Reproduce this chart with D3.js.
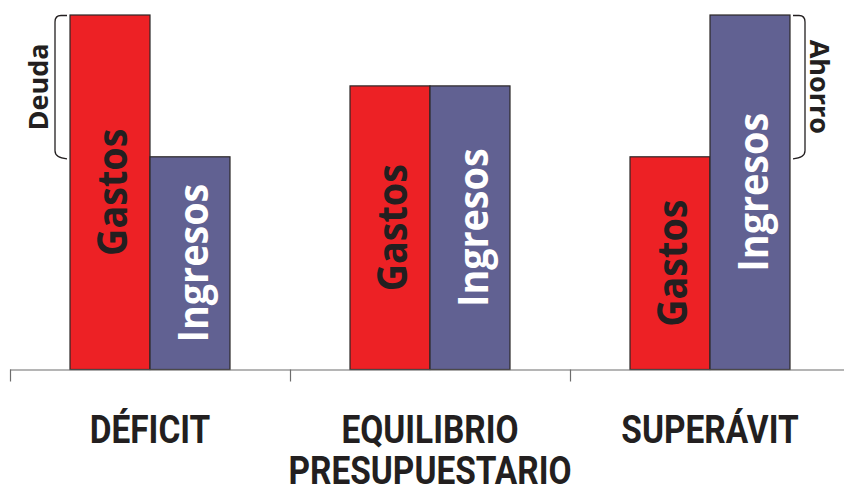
<!DOCTYPE html>
<html>
<head>
<meta charset="utf-8">
<script src="https://cdn.jsdelivr.net/npm/d3@7"></script>
<style>
  html, body { margin: 0; padding: 0; background: #fff; }
  svg { display: block; }
</style>
</head>
<body>
<svg id="chart" width="844" height="485"></svg>
<script>
// ---- data ----
const categories = ["DÉFICIT", "EQUILIBRIO PRESUPUESTARIO", "SUPERÁVIT"];
const categoryLines = [["DÉFICIT"], ["EQUILIBRIO", "PRESUPUESTARIO"], ["SUPERÁVIT"]];
const series = ["Gastos", "Ingresos"];
const gastos = [100, 80, 60];
const ingresos = [60, 80, 100];
const braceLabels = [
  { category: "DÉFICIT", side: "left", text: "Deuda", from: 60, to: 100 },
  { category: "SUPERÁVIT", side: "right", text: "Ahorro", from: 60, to: 100 }
];

// ---- layout ----
const W = 844, H = 485;
const baseY = 369.5;
const svg = d3.select("#chart");

const x = d3.scaleBand().domain(categories).range([10, 850]).paddingInner(0).paddingOuter(0);
const xs = d3.scaleBand().domain(series).range([60, 220]).padding(0);
const y = d3.scaleLinear().domain([0, 100]).range([baseY, 15]);

const colors = { Gastos: "#ED2125", Ingresos: "#616192" };
const textColors = { Gastos: "#231F20", Ingresos: "#FFFFFF" };
const baselineOffset = { Gastos: 17, Ingresos: 18 };

const rows = [];
categories.forEach((c, i) => {
  rows.push({ category: c, serie: "Gastos", value: gastos[i] });
  rows.push({ category: c, serie: "Ingresos", value: ingresos[i] });
});

// bars
const g = svg.append("g");
g.selectAll("rect.bar").data(rows).join("rect")
  .attr("class", "bar")
  .attr("x", d => x(d.category) + xs(d.serie))
  .attr("width", xs.bandwidth())
  .attr("y", d => y(d.value))
  .attr("height", d => y(0) - y(d.value))
  .attr("fill", d => colors[d.serie])
  .attr("stroke", "#2b2727")
  .attr("stroke-width", 1.2);

// bar labels
g.selectAll("text.blabel").data(rows).join("text")
  .attr("class", "blabel")
  .attr("transform", d => {
    const cx = x(d.category) + xs(d.serie) + xs.bandwidth() / 2;
    const cy = (y(d.value) + y(0)) / 2;
    return `translate(${cx},${cy}) rotate(-90) scale(0.92,1)`;
  })
  .attr("y", d => baselineOffset[d.serie])
  .attr("text-anchor", "middle")
  .attr("font-family", "'Open Sans', sans-serif")
  .attr("font-weight", 700)
  .attr("font-size", 41)
  .attr("fill", d => textColors[d.serie])
  .text(d => d.serie);

// axis
const axisG = svg.append("g");
axisG.append("line")
  .attr("x1", x.range()[0]).attr("x2", W)
  .attr("y1", baseY + 0.5).attr("y2", baseY + 0.5)
  .attr("stroke", "#6d6d6d").attr("stroke-width", 1.2);
axisG.selectAll("line.tick").data(categories).join("line")
  .attr("class", "tick")
  .attr("x1", d => x(d) + 0.5).attr("x2", d => x(d) + 0.5)
  .attr("y1", baseY).attr("y2", baseY + 12)
  .attr("stroke", "#6d6d6d").attr("stroke-width", 1.2);

// category labels
const catG = svg.append("g");
categories.forEach((c, i) => {
  const cx = x(c) + x.bandwidth() / 2;
  categoryLines[i].forEach((line, j) => {
    catG.append("text")
      .attr("transform", `translate(${cx},${443 + j * 41}) scale(0.88,1)`)
      .attr("text-anchor", "middle")
      .attr("font-family", "Roboto, sans-serif")
      .attr("font-weight", 700)
      .attr("font-size", 38)
      .attr("fill", "#231F20")
      .text(line);
  });
});

// braces
const braceG = svg.append("g");
braceLabels.forEach(b => {
  const y1 = y(b.to), y2 = y(b.from) + 2;
  let path, tx, rot, ty = (y1 + y2) / 2;
  if (b.side === "left") {
    const xe = x(b.category) + xs.range()[0] - 3; // end hooks
    const xv = xe - 12;
    path = `M${xe},${y1 + 0.5} L${xv + 6},${y1 + 0.5} Q${xv},${y1 + 0.5} ${xv},${y1 + 7} L${xv},${y2 - 8} Q${xv},${y2 - 1} ${xe},${y2}`;
    tx = 48; rot = -90;
  } else {
    const xe = x(b.category) + xs.range()[1] + 3;
    const xv = xe + 12;
    path = `M${xe},${y1 + 0.5} L${xv - 6},${y1 + 0.5} Q${xv},${y1 + 0.5} ${xv},${y1 + 7} L${xv},${y2 - 8} Q${xv},${y2 - 1} ${xe},${y2}`;
    tx = 810; rot = 90;
  }
  braceG.append("path").attr("d", path)
    .attr("fill", "none").attr("stroke", "#231F20").attr("stroke-width", 1.3);
  braceG.append("text")
    .attr("transform", `translate(${tx},${ty}) rotate(${rot})`)
    .attr("text-anchor", "middle")
    .attr("font-family", "'Open Sans', sans-serif")
    .attr("font-weight", 700)
    .attr("font-size", 27)
    .attr("fill", "#231F20")
    .text(b.text);
});
</script>
</body>
</html>
